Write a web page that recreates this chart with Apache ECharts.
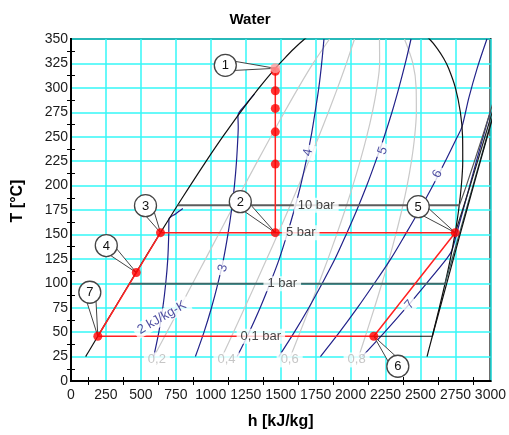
<!DOCTYPE html>
<html>
<head>
<meta charset="utf-8">
<script src="https://cdn.jsdelivr.net/npm/echarts@6/dist/echarts.min.js"></script>
<style>
html, body { margin: 0; padding: 0; background: #fff; }
#chart { width: 509px; height: 435px; }
</style>
</head>
<body>
<div id="chart"></div>
<script>
// ---- Water T-h diagram data: points are [h kJ/kg, T °C] ----

// Saturation dome
const satLiquid = [[104.8,25],[125.7,30],[191.8,45.8],[209.3,50],[313.9,75],[419.1,100],[525.0,125],[632.2,150],[741.0,175],[852.3,200],[966.9,225],[1085.8,250],[1211.1,275],[1344.8,300],[1461.3,320],[1525.9,330],[1594.5,340],[1670.9,350],[1761.7,360]];
const satVapor = [[2546.5,25],[2555.6,30],[2584.6,45.8],[2591.3,50],[2634.6,75],[2675.6,100],[2713.5,125],[2745.9,150],[2772.7,175],[2792.0,200],[2802.0,225],[2800.9,250],[2785.0,275],[2749.6,300],[2700.6,320],[2666.0,330],[2621.3,340],[2563.6,350],[2481.5,360]];

// Lines of constant vapour quality
const quality02 = [[593.1,25],[685.8,50],[778.0,75],[870.4,100],[962.7,125],[1054.9,150],[1147.3,175],[1240.2,200],[1333.9,225],[1428.8,250],[1525.9,275],[1625.8,300],[1731.5,325],[1849.4,350]];
const quality04 = [[1081.5,25],[1162.1,50],[1242.2,75],[1321.7,100],[1400.4,125],[1477.7,150],[1553.7,175],[1628.2,200],[1700.9,225],[1771.8,250],[1840.7,275],[1906.7,300],[1969.5,325],[2028.0,350]];
const quality06 = [[1569.8,25],[1638.5,50],[1706.3,75],[1773.0,100],[1838.1,125],[1900.4,150],[1960.0,175],[2016.1,200],[2068.0,225],[2114.9,250],[2155.4,275],[2187.7,300],[2207.4,325],[2206.5,350]];
const quality08 = [[2058.2,25],[2114.9,50],[2170.5,75],[2224.3,100],[2275.8,125],[2323.2,150],[2366.4,175],[2404.1,200],[2435.0,225],[2457.9,250],[2470.2,275],[2468.6,300],[2445.4,325],[2385.1,350]];
const qualityLabelText = ['0,2', '0,4', '0,6', '0,8'];
const qualityLabelAt = [[614,21.6],[1112,21.6],[1564,21.6],[2043,21.6]];

// Isentropes, s in kJ/kg-K
const entropy2 = [[591.7,25],[628.2,50],[656.6,75],[677.7,100],[692.3,125],[699.1,150],[700.9,165.8],[750,171.2],[800,176.5]];
const entropy3 = [[889.8,25],[951.3,50],[1004.8,75],[1050.9,100],[1091.1,125],[1122.3,150],[1148.4,175],[1169.0,200],[1184.0,225],[1193.8,250],[1196.2,260],[1194.0,271.7],[1250,283],[1312,293.5]];
const entropy4 = [[1187.9,25],[1274.4,50],[1353.0,75],[1424.0,100],[1489.8,125],[1545.4,150],[1596.5,175],[1642.2,200],[1681.8,225],[1717.0,250],[1745.6,275],[1772.4,300],[1792.9,325],[1809.3,350]];
const entropy5 = [[1486.1,25],[1597.6,50],[1701.1,75],[1797.2,100],[1888.6,125],[1968.6,150],[2044.6,175],[2115.3,200],[2179.6,225],[2240.1,250],[2295.7,275],[2345.3,300],[2390.9,325],[2432.1,350]];
const entropy6 = [[1784.2,25],[1920.7,50],[2049.3,75],[2170.3,100],[2287.3,125],[2391.7,150],[2492.7,175],[2588.5,200],[2677.3,225],[2763.2,250],[2796.5,260],[2846,290],[2905,320],[2975,350]];
const entropy7 = [[2082.4,25],[2243.9,50],[2397.5,75],[2543.5,100],[2686.1,125],[2724,133.5],[2757,150],[2852,200],[2948,250],[3000,276]];
const entropyLabelText = ['2 kJ/kg-K', '3', '4', '5', '6', '7'];
const entropyLabelAt = [[650,64.9],[1086,115.6],[1695,234],[2231,235.7],[2621,212],[2421,78]];

// Isobars: wet (horizontal) parts and superheated parts
const isobar10Wet = [[762.6,179.9],[2778.1,179.9]];
const isobar1Wet = [[417.5,99.6],[2675.5,99.6]];
const isobar01Wet = [[2166,45.8],[2584.6,45.8]];
const isobar10Dry = [[2778.1,179.9],[2827.9,200],[2942.6,250],[3051.2,300]];
const isobar5Dry = [[2748.7,151.8],[2855.4,200],[2960.7,250],[3064.2,300]];
const isobar1Dry = [[2675.5,99.6],[2776.4,150],[2875.3,200],[2974.3,250],[3074.3,300]];
const isobar01Dry = [[2584.6,45.8],[2687.5,100],[2783.0,150],[2879.5,200],[2977.3,250],[3076.5,300]];
const isobarLabelText = ['10 bar', '5 bar', '1 bar', '0,1 bar'];
const isobarLabelAt = [[1754,179.9],[1643,151.8],[1511,99.6],[1358,45.8]];

// Cycle states 1..7 and the paths joining them
const cycleNames = ['1', '2', '3', '4', '5', '6', '7'];
const cycleStates = [[1461.3,320],[1461.3,151.8],[640.1,151.8],[467,111],[2748.1,151.8],[2166,45.8],[191.8,45.8]];
const cyclePath = [[191.8,45.8],[467,111],[640.1,151.8],[1461.3,151.8],[2748.1,151.8],[2166,45.8],[191.8,45.8]];
const throttlePath = [[1461.3,151.8],[1461.3,320]];
const throttleStates = [[1461.3,317],[1461.3,297],[1461.3,279],[1461.3,255],[1461.3,222]];

// ---- styling ----
const FONT = '"Liberation Sans", Arial, Helvetica, sans-serif';
const NAVY = '#22228a';
const RED = '#ff2222';
// Balloon offsets (px) from each state point to its numbered circle
const calloutOffset = { '1': [-50,-3], '2': [-35,-31], '3': [-15,-27], '4': [-30,-27], '5': [-37,-26], '6': [24,30], '7': [-8,-44] };
const entropyLabelRotate = [30, 76, 78, 71, 63, 50];

function curve(data, color, width, z, smooth) {
  return {
    type: 'line', data: data, symbol: 'none', silent: true, z: z,
    smooth: smooth ? 0.3 : false,
    lineStyle: { color: color, width: width }
  };
}

function textMarks(texts, points, color, rotations, z) {
  return {
    type: 'scatter', silent: true, z: z, symbolSize: 0,
    itemStyle: { color: 'rgba(0,0,0,0)' },
    data: points.map((p, i) => ({
      value: p,
      label: {
        show: true, position: 'inside', formatter: texts[i],
        rotate: rotations ? rotations[i] : 0,
        color: color, fontSize: 13, fontFamily: FONT,
        backgroundColor: '#fff', padding: [1, 4]
      }
    }))
  };
}

const chart = echarts.init(document.getElementById('chart'), null, { renderer: 'canvas' });

const axisCommon = {
  axisLine: { show: true, lineStyle: { color: '#000', width: 2 } },
  axisTick: { show: false, inside: true },
  minorTick: { show: true, splitNumber: 2, length: 4, lineStyle: { color: '#000', width: 1 } },
  splitLine: { show: true, lineStyle: { color: '#35f7f7', width: 1.5 } },
  minorSplitLine: { show: false }
};
const plainNumber = v => String(v);

chart.setOption({
  animation: false,
  backgroundColor: '#fff',
  grid: { left: 71, top: 39, width: 420, height: 345, show: true, borderColor: '#000', borderWidth: 2 },
  xAxis: [
    Object.assign({
      type: 'value', min: 0, max: 3000, interval: 250, position: 'bottom',
      axisLabel: { color: '#1a1a1a', fontSize: 14, fontFamily: FONT, margin: 7,
                   formatter: plainNumber, showMinLabel: true, showMaxLabel: true, hideOverlap: false },
      name: 'h [kJ/kg]', nameLocation: 'middle', nameGap: 33,
      nameTextStyle: { fontWeight: 'bold', fontSize: 16, fontFamily: FONT, color: '#000' }
    }, axisCommon),
    Object.assign({
      type: 'value', min: 0, max: 3000, interval: 250, position: 'top',
      axisLabel: { show: false }
    }, axisCommon, { splitLine: { show: false } })
  ],
  yAxis: [
    Object.assign({
      type: 'value', min: 0, max: 350, interval: 25, position: 'left',
      axisLabel: { color: '#1a1a1a', fontSize: 14, fontFamily: FONT, margin: 3,
                   formatter: plainNumber, showMinLabel: true, showMaxLabel: true }
    }, axisCommon),
    Object.assign({
      type: 'value', min: 0, max: 350, interval: 25, position: 'right',
      axisLabel: { show: false }
    }, axisCommon, { splitLine: { show: false } })
  ],
  graphic: [
    { type: 'text', x: 250, y: 20, z: 100,
      style: { text: 'Water', font: 'bold 15px ' + FONT, fill: '#000', textAlign: 'center', textVerticalAlign: 'middle' } },
    { type: 'text', x: 17.5, y: 201, rotation: Math.PI / 2, z: 100,
      style: { text: 'T [°C]', font: 'bold 16px ' + FONT, fill: '#000', textAlign: 'center', textVerticalAlign: 'middle' } }
  ],
  series: [
    curve(quality02, '#c9c9c9', 1.2, 2, true),
    curve(quality04, '#c9c9c9', 1.2, 2, true),
    curve(quality06, '#c9c9c9', 1.2, 2, true),
    curve(quality08, '#c9c9c9', 1.2, 2, true),
    curve(entropy2, NAVY, 1.2, 3, true),
    curve(entropy3, NAVY, 1.2, 3, true),
    curve(entropy4, NAVY, 1.2, 3, true),
    curve(entropy5, NAVY, 1.2, 3, true),
    curve(entropy6, NAVY, 1.2, 3, true),
    curve(entropy7, NAVY, 1.2, 3, true),
    curve(satLiquid, '#111', 1.2, 4, true),
    curve(satVapor, '#111', 1.2, 4, true),
    curve(isobar10Wet, '#5c5c5c', 2, 4, false),
    curve(isobar1Wet, '#3b6a6a', 2, 4, false),
    curve(isobar01Wet, '#111', 1.2, 4, false),
    curve(isobar10Dry, '#555', 1.2, 4, true),
    curve(isobar5Dry, '#222', 1.2, 4, true),
    curve(isobar1Dry, '#3b5a5a', 1.2, 4, true),
    curve(isobar01Dry, '#111', 1.2, 4, true),
    curve(cyclePath, RED, 1.5, 5, false),
    curve(throttlePath, RED, 1.5, 5, false),
    textMarks(qualityLabelText, qualityLabelAt, '#b8b8b8', null, 6),
    textMarks(entropyLabelText, entropyLabelAt, NAVY, entropyLabelRotate, 6),
    textMarks(isobarLabelText, isobarLabelAt, '#111', null, 6),
    {
      // numbered balloons pointing at the cycle states
      type: 'custom', silent: true, z: 7,
      data: cycleStates,
      renderItem: function (params, api) {
        const p = api.coord([api.value(0), api.value(1)]);
        const name = cycleNames[params.dataIndex];
        const off = calloutOffset[name];
        const cx = p[0] + off[0], cy = p[1] + off[1];
        const r = 11;
        const ang = Math.atan2(p[1] - cy, p[0] - cx);
        const spread = 0.42;
        const a1 = [cx + r * Math.cos(ang + spread), cy + r * Math.sin(ang + spread)];
        const a2 = [cx + r * Math.cos(ang - spread), cy + r * Math.sin(ang - spread)];
        return {
          type: 'group',
          children: [
            { type: 'polygon', shape: { points: [a1, p, a2] },
              style: { fill: '#fff', stroke: '#444', lineWidth: 1 } },
            { type: 'circle', shape: { cx: cx, cy: cy, r: r },
              style: { fill: '#fff', stroke: '#444', lineWidth: 1.3 } },
            { type: 'text',
              style: { text: name, x: cx, y: cy + 0.5, textAlign: 'center', textVerticalAlign: 'middle',
                       font: '13px ' + FONT, fill: '#111' } }
          ]
        };
      }
    },
    {
      type: 'scatter', silent: true, z: 8, symbol: 'circle', symbolSize: 9,
      itemStyle: { color: '#ff0000' },
      data: throttleStates.concat(cycleStates.slice(1))
    },
    {
      type: 'scatter', silent: true, z: 9, symbol: 'circle', symbolSize: 10,
      itemStyle: { color: '#ff9a9a' },
      data: cycleStates.slice(0, 1)
    }
  ]
});
</script>
</body>
</html>
